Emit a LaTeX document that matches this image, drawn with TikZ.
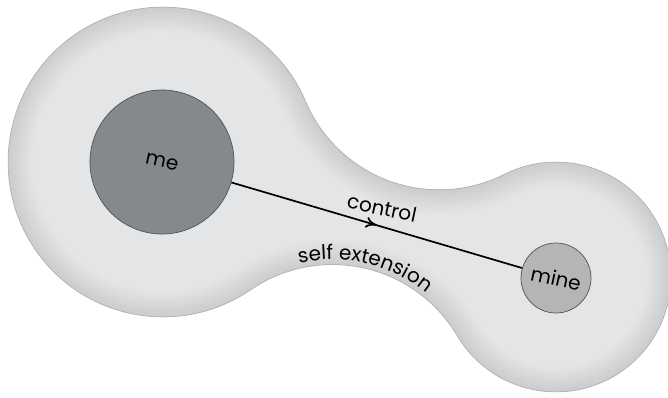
\documentclass[tikz,border=0pt]{standalone}
\usepackage{fontspec}
\setmainfont{Poppins}
\usetikzlibrary{arrows.meta,decorations.markings,decorations.text}

\definecolor{blobfill}{HTML}{E3E5E6}
\definecolor{blobline}{HTML}{A4A6A8}
\definecolor{megray}{HTML}{86898C}
\definecolor{minegray}{HTML}{B3B5B7}
\definecolor{selfline}{HTML}{505254}

\newcommand\labelfont{\fontsize{20}{24}\selectfont}
% outline of the self extension: two circles joined by concave arcs
\newcommand\blobpath{(305.67,101.42) arc[start angle=156.99, end angle=63.29, radius=145]
  arc[start angle=-116.71, end angle=149.33, radius=115]
  arc[start angle=-30.67, end angle=-124.37, radius=145]
  arc[start angle=55.63, end angle=336.99, radius=155] -- cycle}

\begin{document}
\begin{tikzpicture}[x=1pt,y=-1pt,font=\labelfont,
    selfnode/.style={circle, draw=selfline, line width=0.7pt, inner sep=0pt, minimum size=#1},
    midarrow/.style={postaction={decorate}, decoration={markings, mark=at position 0.5 with {\arrow{To[length=11pt,width=11pt]}}}}]
    \useasboundingbox (0,0) rectangle (668,397);

    \fill[blobfill] \blobpath;
    \begin{scope}
        \clip \blobpath;
        \foreach \w in {2,4,...,50}{
            \draw[line width=\w pt, black, opacity=0.0045] \blobpath;
        }
    \end{scope}
    \draw[blobline, line width=0.5pt] \blobpath;

    \coordinate (neck) at (332.36,409.62);
    \path[decorate, decoration={text along path, text={|\labelfont|self extension}, text align=center}]
        (neck) ++(-117:150) arc[start angle=-117, end angle=-37, radius=150];

    \node[selfnode=144pt, fill=megray, rotate=-12] (me) at (162,162) {me};
    \node[selfnode=70pt, fill=minegray, rotate=-12] (mine) at (556,278) {mine};
    \draw[line width=1.7pt, midarrow] (me) -- (mine);
    \node[rotate=-12] (control) at (382,208) {control};
\end{tikzpicture}
\end{document}
